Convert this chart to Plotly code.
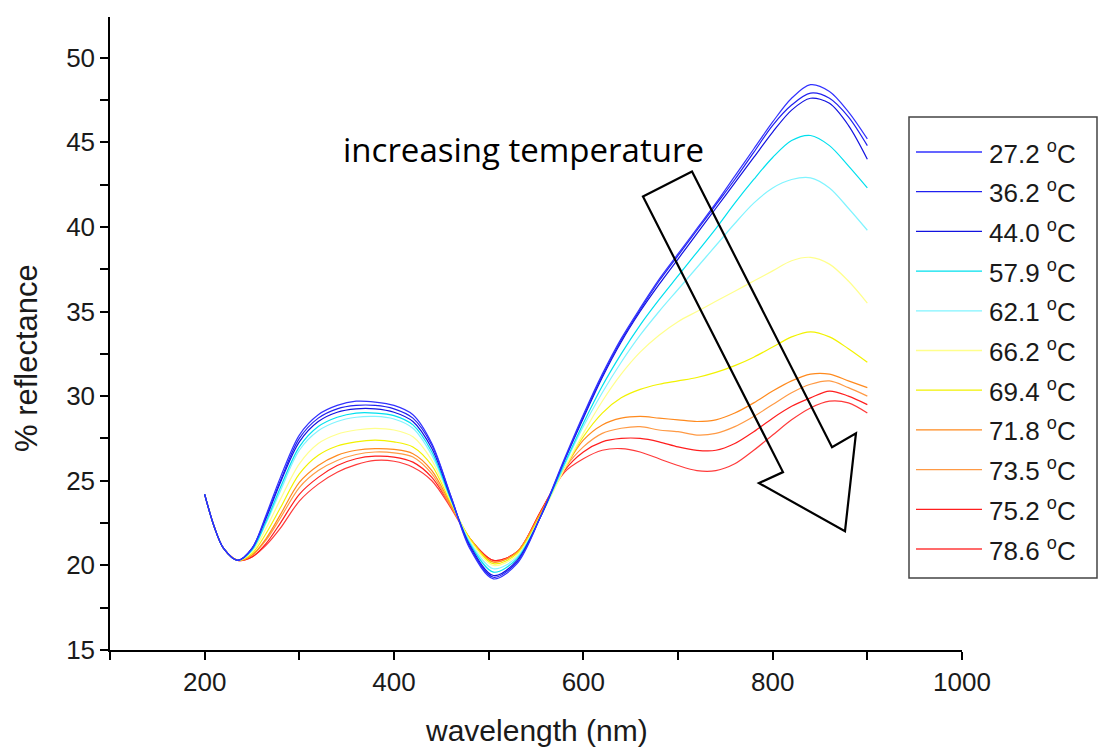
import plotly.graph_objects as go

wavelength = [200, 210, 220, 235, 250, 265, 280, 300, 320, 340, 360, 380, 400, 420, 440, 460, 480, 505,
              530, 555, 580, 600, 620, 640, 660, 680, 700, 720, 740, 760, 780, 800, 820, 840, 860, 880, 900]

labels = ["27.2", "36.2", "44.0", "57.9", "62.1", "66.2", "69.4", "71.8", "73.5", "75.2", "78.6"]
colors = ["#3232FF", "#2020F0", "#1212E0", "#00E0EE", "#80F4FF", "#FFFF8C", "#F2F200",
          "#FF8A1E", "#FF9A45", "#FF1E1E", "#FF3A3A"]

r_27_2 = [24.2, 22.3, 21.0, 20.3, 21.0, 23.0, 25.2, 27.7, 28.9, 29.45, 29.7, 29.65, 29.45, 28.9, 27.2, 24.1, 21.0, 19.2,
          20.1, 22.9, 26.3, 28.9, 31.3, 33.4, 35.2, 36.9, 38.4, 39.9, 41.4, 43.0, 44.6, 46.2, 47.6, 48.4, 48.0, 46.8, 45.2]
r_36_2 = [24.2, 22.3, 21.0, 20.3, 21.0, 22.9, 25.0, 27.5, 28.7, 29.25, 29.45, 29.45, 29.25, 28.7, 27.1, 24.1, 21.1, 19.3,
          20.2, 22.9, 26.2, 28.8, 31.2, 33.3, 35.1, 36.8, 38.3, 39.8, 41.3, 42.8, 44.4, 46.0, 47.2, 47.9, 47.6, 46.5, 44.8]
r_44_0 = [24.2, 22.3, 21.0, 20.3, 21.0, 22.8, 24.9, 27.3, 28.5, 29.05, 29.25, 29.25, 29.05, 28.5, 26.9, 24.0, 21.2, 19.4,
          20.3, 22.9, 26.2, 28.7, 31.1, 33.2, 35.0, 36.6, 38.1, 39.6, 41.1, 42.6, 44.1, 45.6, 46.9, 47.6, 47.3, 46.0, 44.0]
r_57_9 = [24.2, 22.3, 21.0, 20.3, 20.9, 22.6, 24.6, 27.0, 28.2, 28.75, 29.0, 29.0, 28.85, 28.3, 26.7, 23.9, 21.3, 19.6,
          20.4, 22.9, 26.0, 28.4, 30.6, 32.5, 34.2, 35.7, 37.1, 38.5, 39.9, 41.4, 42.8, 44.1, 45.1, 45.4, 44.8, 43.6, 42.3]
r_62_1 = [24.2, 22.3, 21.0, 20.3, 20.9, 22.5, 24.4, 26.8, 27.95, 28.5, 28.75, 28.8, 28.65, 28.1, 26.5, 23.9, 21.4, 19.8,
          20.5, 22.9, 25.9, 28.2, 30.2, 32.0, 33.6, 35.0, 36.3, 37.6, 38.9, 40.2, 41.4, 42.3, 42.8, 42.9, 42.3, 41.1, 39.8]
r_66_2 = [24.2, 22.3, 21.0, 20.3, 20.8, 22.2, 23.9, 26.0, 27.2, 27.75, 28.0, 28.1, 28.0, 27.6, 26.2, 23.8, 21.5, 20.0,
          20.6, 22.9, 25.7, 27.8, 29.7, 31.3, 32.6, 33.6, 34.4, 35.0, 35.6, 36.2, 36.8, 37.4, 38.0, 38.2, 37.8, 36.8, 35.5]
r_69_4 = [24.2, 22.3, 21.0, 20.3, 20.7, 21.9, 23.4, 25.4, 26.5, 27.05, 27.3, 27.4, 27.3, 27.0, 25.9, 23.7, 21.6, 20.1,
          20.7, 23.0, 25.7, 27.6, 29.0, 29.9, 30.4, 30.7, 30.9, 31.1, 31.4, 31.8, 32.3, 32.9, 33.5, 33.8, 33.5, 32.8, 32.0]
r_71_8 = [24.2, 22.3, 21.0, 20.3, 20.6, 21.6, 23.0, 24.9, 25.9, 26.5, 26.8, 26.9, 26.85, 26.6, 25.6, 23.6, 21.6, 20.2,
          20.8, 23.1, 25.7, 27.4, 28.3, 28.7, 28.8, 28.7, 28.6, 28.5, 28.6, 29.0, 29.6, 30.3, 30.9, 31.3, 31.3, 30.9, 30.5]
r_73_5 = [24.2, 22.3, 21.0, 20.3, 20.6, 21.5, 22.8, 24.6, 25.6, 26.2, 26.55, 26.7, 26.65, 26.4, 25.4, 23.5, 21.6, 20.2,
          20.8, 23.1, 25.7, 27.0, 27.8, 28.1, 28.2, 28.0, 27.9, 27.7, 27.8, 28.2, 28.8, 29.5, 30.2, 30.7, 30.9, 30.5, 30.0]
r_75_2 = [24.2, 22.3, 21.0, 20.3, 20.5, 21.3, 22.5, 24.2, 25.2, 25.9, 26.3, 26.45, 26.4, 26.1, 25.2, 23.5, 21.6, 20.3,
          20.8, 23.2, 25.6, 26.7, 27.3, 27.5, 27.5, 27.3, 27.0, 26.8, 26.8, 27.2, 27.9, 28.7, 29.4, 29.9, 30.3, 30.0, 29.5]
r_78_6 = [24.2, 22.3, 21.0, 20.3, 20.5, 21.2, 22.2, 23.8, 24.8, 25.5, 25.95, 26.2, 26.15, 25.8, 25.0, 23.4, 21.6, 20.3,
          20.8, 23.2, 25.5, 26.3, 26.8, 26.9, 26.7, 26.3, 25.9, 25.6, 25.6, 26.0, 26.8, 27.7, 28.6, 29.3, 29.7, 29.6, 29.0]

series = [r_27_2, r_36_2, r_44_0, r_57_9, r_62_1, r_66_2, r_69_4, r_71_8, r_73_5, r_75_2, r_78_6]

x_ticks = [200, 400, 600, 800, 1000]
y_ticks = [15, 20, 25, 30, 35, 40, 45, 50]

FONT = "Liberation Sans, Arial, sans-serif"

fig = go.Figure()
# draw warm (bottom) curves first, blue on top
for lab, col, vals in reversed(list(zip(labels, colors, series))):
    fig.add_trace(go.Scatter(x=wavelength, y=vals, mode="lines", name=lab + " °C",
                             line=dict(color=col, width=1.2, shape="spline", smoothing=0.9),
                             showlegend=False))

# plot area in pixels: x 110..962, y 17..650
L, R, T, B = 110, 962, 17, 650
W, H = 1099, 751
pw, ph = R - L, B - T

def px(xp):
    return (xp - L) / pw

def py(yp):
    return (B - yp) / ph

shapes = []
annotations = []

# custom legend
shapes.append(dict(type="rect", xref="paper", yref="paper", x0=px(909), x1=px(1097), y0=py(578), y1=py(117),
                   line=dict(color="#444444", width=1.5), fillcolor="white", layer="above"))
for i, (lab, col) in enumerate(zip(labels, colors)):
    yy = 152 + i * 39.7
    shapes.append(dict(type="line", xref="paper", yref="paper", x0=px(916), x1=px(982), y0=py(yy), y1=py(yy),
                       line=dict(color=col, width=1.3), layer="above"))
    annotations.append(dict(xref="paper", yref="paper", x=px(987), y=py(yy), xanchor="left", yanchor="middle",
                            text=lab + " <sup>o</sup>C", showarrow=False,
                            font=dict(family=FONT, size=26, color="#1a1a1a")))

# arrow outline
shapes.append(dict(type="path", xref="x", yref="y",
                   path="M 663,41.8 L 714.8,43.27 L 862.7,26.98 L 888.0,27.81 L 876.4,22.02 L 785.5,24.86 L 810.9,25.51 Z",
                   line=dict(color="black", width=2.2), fillcolor="rgba(0,0,0,0)", layer="above"))

annotations.append(dict(xref="x", yref="y", x=537, y=44.6, text="increasing temperature", showarrow=False,
                        xanchor="center", yanchor="middle",
                        font=dict(family="Open Sans, sans-serif", size=33, color="black")))

# axis titles
annotations.append(dict(xref="paper", yref="paper", x=px(536), y=py(731), text="wavelength (nm)", showarrow=False,
                        xanchor="center", yanchor="middle", font=dict(family=FONT, size=30, color="#1a1a1a")))
annotations.append(dict(xref="paper", yref="paper", x=px(26), y=py(358), text="% reflectance", showarrow=False,
                        textangle=-90, xanchor="center", yanchor="middle",
                        font=dict(family=FONT, size=31, color="#1a1a1a")))

fig.update_layout(
    width=W, height=H,
    margin=dict(l=L, r=W - R, t=T, b=H - B),
    plot_bgcolor="white", paper_bgcolor="white",
    shapes=shapes, annotations=annotations,
    xaxis=dict(range=[100, 1000], tickvals=x_ticks, ticktext=[str(v) for v in x_ticks],
               ticks="outside", ticklen=8, tickwidth=1.5, tickcolor="black",
               showline=True, linecolor="black", linewidth=1.5, showgrid=False, zeroline=False,
               tickfont=dict(family=FONT, size=26, color="#1a1a1a"),
               minor=dict(dtick=100, tick0=0, ticks="outside", ticklen=8, tickwidth=1.5, tickcolor="black", showgrid=False)),
    yaxis=dict(range=[15, 52.4], tickvals=y_ticks, ticktext=[str(v) for v in y_ticks],
               ticks="outside", ticklen=8, tickwidth=1.5, tickcolor="black",
               showline=True, linecolor="black", linewidth=1.5, showgrid=False, zeroline=False,
               tickfont=dict(family=FONT, size=26, color="#1a1a1a"),
               minor=dict(dtick=2.5, tick0=0, ticks="outside", ticklen=8, tickwidth=1.5, tickcolor="black", showgrid=False)),
)

fig.write_html("out.html", config={"displayModeBar": False},
               post_script="document.body.style.margin='0';document.body.style.overflow='hidden';")
